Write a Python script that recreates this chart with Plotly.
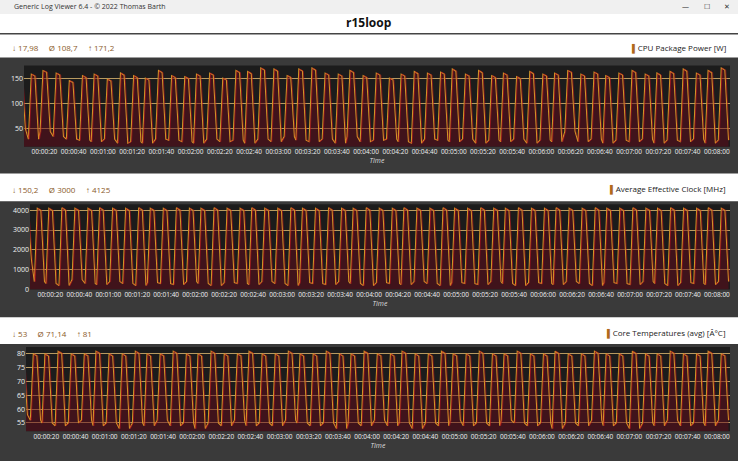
import plotly.graph_objects as go

cycle_t = [0, 9, 17, 26, 35, 44, 52, 61, 70, 79, 87, 96, 105, 114, 122, 131, 140, 149, 157, 166,
           175, 184, 192, 201, 210, 219, 227, 236, 245, 254, 262, 271, 280, 289, 297, 306, 315, 324,
           332, 341, 350, 359, 367, 376, 385, 394, 402, 411, 420, 429, 437, 446, 455, 464, 472, 481]
power_hi = [160, 158, 165, 160, 145, 155, 158, 148, 160, 155, 150, 165, 155, 153, 158, 160, 150, 165, 163, 170,
            168, 155, 168, 170, 160, 158, 165, 155, 160, 150, 158, 163, 160, 162, 168, 158, 165, 155, 160, 153,
            163, 158, 160, 165, 158, 162, 155, 160, 165, 158, 160, 163, 168, 160, 165, 170]
power_lo = [50, 30, 45, 35, 30, 28, 25, 30, 22, 25, 22, 30, 28, 25, 22, 30, 25, 28, 22, 30,
            25, 35, 28, 25, 30, 22, 35, 25, 28, 30, 25, 22, 30, 28, 25, 30, 22, 28, 25, 30,
            22, 28, 25, 45, 25, 30, 22, 28, 25, 30, 22, 28, 25, 30, 22, 28]
clock_hi = [4125, 4100, 4100, 4125, 4100, 4100, 4125, 4100, 4100, 4125, 4100, 4100, 4125, 4100, 4100, 4125,
            4100, 4100, 4125, 4100, 4100, 4125, 4100, 4100, 4125, 4100, 4100, 4125, 4100, 4100, 4125, 4100,
            4100, 4125, 4100, 4100, 4125, 4100, 4100, 4125, 4100, 4100, 4125, 4100, 4100, 4125, 4100, 4100,
            4125, 4100, 4100, 4125, 4100, 4100, 4125, 4100]
clock_lo = [1500, 400, 300, 200, 500, 300, 250, 400, 300, 200, 350, 300, 250, 400, 300, 200, 350, 300, 250, 400,
            300, 200, 350, 300, 250, 400, 300, 200, 350, 300, 250, 400, 300, 200, 350, 300, 250, 400, 300, 200,
            350, 300, 250, 400, 300, 200, 350, 300, 250, 400, 300, 200, 350, 300, 250, 400]
temp_hi = [79, 80, 80, 81, 80, 80, 81, 80, 80, 81, 80, 80, 81, 80, 80, 81, 80, 80, 81, 80,
           80, 81, 80, 80, 81, 80, 80, 81, 80, 80, 81, 80, 80, 81, 80, 80, 81, 80, 80, 81,
           80, 80, 81, 80, 80, 81, 80, 80, 81, 80, 80, 81, 80, 80, 81, 80]
temp_lo = [58, 56, 55, 54, 55, 56, 54, 55, 53, 55, 54, 56, 54, 55, 53, 55, 54, 56, 54, 55,
           54, 56, 55, 54, 55, 53, 55, 54, 56, 54, 55, 53, 55, 54, 56, 54, 55, 54, 56, 55,
           54, 55, 53, 55, 54, 56, 54, 55, 53, 55, 54, 56, 54, 55, 54, 56]

tick_s = list(range(20, 481, 20))
tick_labels = ["00:%02d:%02d" % (s // 60, s % 60) for s in tick_s]

def series(hi, lo):
    xs, ys = [], []
    for t, h, l in zip(cycle_t, hi, lo):
        xs += [t, t + 2, t + 4.5, t + 7]
        ys += [l, h, h * 0.97 + l * 0.03, l]
    return xs, ys

panels = [
    dict(hi=power_hi, lo=power_lo, dom=[1 - 148/465, 1 - 66/465], xd=[24/738, 730/738], rng=[15, 175],
         tv=[50, 100, 150], stats="↓ 17,98     Ø 108,7     ↑ 171,2", label="CPU Package Power [W]",
         hy=48, bg=[58, 175]),
    dict(hi=clock_hi, lo=clock_lo, dom=[1 - 292/465, 1 - 206/465], xd=[30/738, 730/738], rng=[0, 4300],
         tv=[0, 1000, 2000, 3000, 4000], stats="↓ 150,2     Ø 3000     ↑ 4125", label="Average Effective Clock [MHz]",
         hy=191, bg=[203, 320]),
    dict(hi=temp_hi, lo=temp_lo, dom=[1 - 435/465, 1 - 350/465], xd=[26/738, 730/738], rng=[52, 82.5],
         tv=[55, 60, 65, 70, 75, 80], stats="↓ 53     Ø 71,14     ↑ 81", label="Core Temperatures (avg) [Â°C]",
         hy=336, bg=[347, 465]),
]

fig = go.Figure()
shapes, annotations = [], []
shapes.append(dict(type="rect", xref="paper", yref="paper", x0=0, x1=1, y0=1 - 14/465, y1=1,
                   fillcolor="#f0f0f0", line_width=0, layer="below"))
shapes.append(dict(type="line", xref="paper", yref="paper", x0=0, x1=1, y0=1 - 34/465, y1=1 - 34/465,
                   line=dict(color="#444", width=1.5)))
annotations.append(dict(text="Generic Log Viewer 6.4 - © 2022 Thomas Barth", x=12/738, y=1 - 7/465,
                        xref="paper", yref="paper", showarrow=False, xanchor="left", yanchor="middle",
                        font=dict(size=7, color="#333")))
annotations.append(dict(text="—        ☐        ✕", x=732/738, y=1 - 7/465, xref="paper", yref="paper",
                        showarrow=False, xanchor="right", yanchor="middle", font=dict(size=7, color="#333")))
annotations.append(dict(text="<b>r15loop</b>", x=0.5, y=1 - 23/465, xref="paper", yref="paper",
                        showarrow=False, yanchor="middle", font=dict(size=12, color="#111")))

for i, p in enumerate(panels, start=1):
    xs, ys = series(p["hi"], p["lo"])
    ax = "" if i == 1 else str(i)
    fig.add_trace(go.Scatter(x=xs, y=[p["rng"][0]] * len(xs), mode="lines", line=dict(width=0),
                             showlegend=False, hoverinfo="skip", xaxis="x" + ax, yaxis="y" + ax))
    fig.add_trace(go.Scatter(x=xs, y=ys, mode="lines", line=dict(color="#d29a28", width=1.1),
                             fill="tonexty", fillcolor="rgba(100,10,25,0.5)", showlegend=False,
                             xaxis="x" + ax, yaxis="y" + ax))
    fig.add_trace(go.Scatter(x=[x + 0.6 for x in xs], y=ys, mode="lines", line=dict(color="#c01020", width=0.8),
                             showlegend=False, xaxis="x" + ax, yaxis="y" + ax, opacity=0.7))
    fig.layout["xaxis" + ax] = dict(domain=p["xd"], anchor="y" + ax, range=[6, 489], tickvals=tick_s,
                                    ticktext=tick_labels, showgrid=False, zeroline=False, tickangle=0,
                                    tickfont=dict(size=6.5, color="#f0f0f0"),
                                    title=dict(text="<i>Time</i>", font=dict(size=7, color="#ddd"), standoff=1))
    fig.layout["yaxis" + ax] = dict(domain=p["dom"], anchor="x" + ax, range=p["rng"], tickvals=p["tv"],
                                    gridcolor="#b89a60", gridwidth=0.6, zeroline=False,
                                    tickfont=dict(size=7, color="#f0f0f0"))
    shapes.append(dict(type="rect", xref="paper", yref="paper", x0=0, x1=1,
                       y0=1 - p["bg"][1]/465, y1=1 - p["bg"][0]/465, fillcolor="#3a3a3a",
                       line_width=0, layer="below"))
    shapes.append(dict(type="rect", xref="paper", yref="paper", x0=p["xd"][0], x1=p["xd"][1],
                       y0=p["dom"][0], y1=p["dom"][1], fillcolor="#1c1c1c",
                       line_width=0, layer="below"))
    annotations.append(dict(text=p["stats"], x=10/738, y=1 - p["hy"]/465, xref="paper", yref="paper",
                            showarrow=False, xanchor="left", yanchor="middle",
                            font=dict(size=8, color="#8a5a2a")))
    annotations.append(dict(text="<span style='color:#b06a1a'>▌</span>" + p["label"], x=728/738,
                            y=1 - p["hy"]/465, xref="paper", yref="paper", showarrow=False,
                            xanchor="right", yanchor="middle", font=dict(size=8, color="#222")))

fig.update_layout(width=738, height=465, margin=dict(l=0, r=0, t=0, b=0), paper_bgcolor="white",
                  plot_bgcolor="rgba(0,0,0,0)", shapes=shapes, annotations=annotations,
                  font=dict(family="Open Sans"), showlegend=False)
fig.write_html("out.html", config={"displayModeBar": False})
with open("out.html", encoding="utf-8") as f:
    html = f.read()
html = html.replace("<body>", "<body style=\"margin:0;overflow:hidden\">", 1)
with open("out.html", "w", encoding="utf-8") as f:
    f.write(html)
